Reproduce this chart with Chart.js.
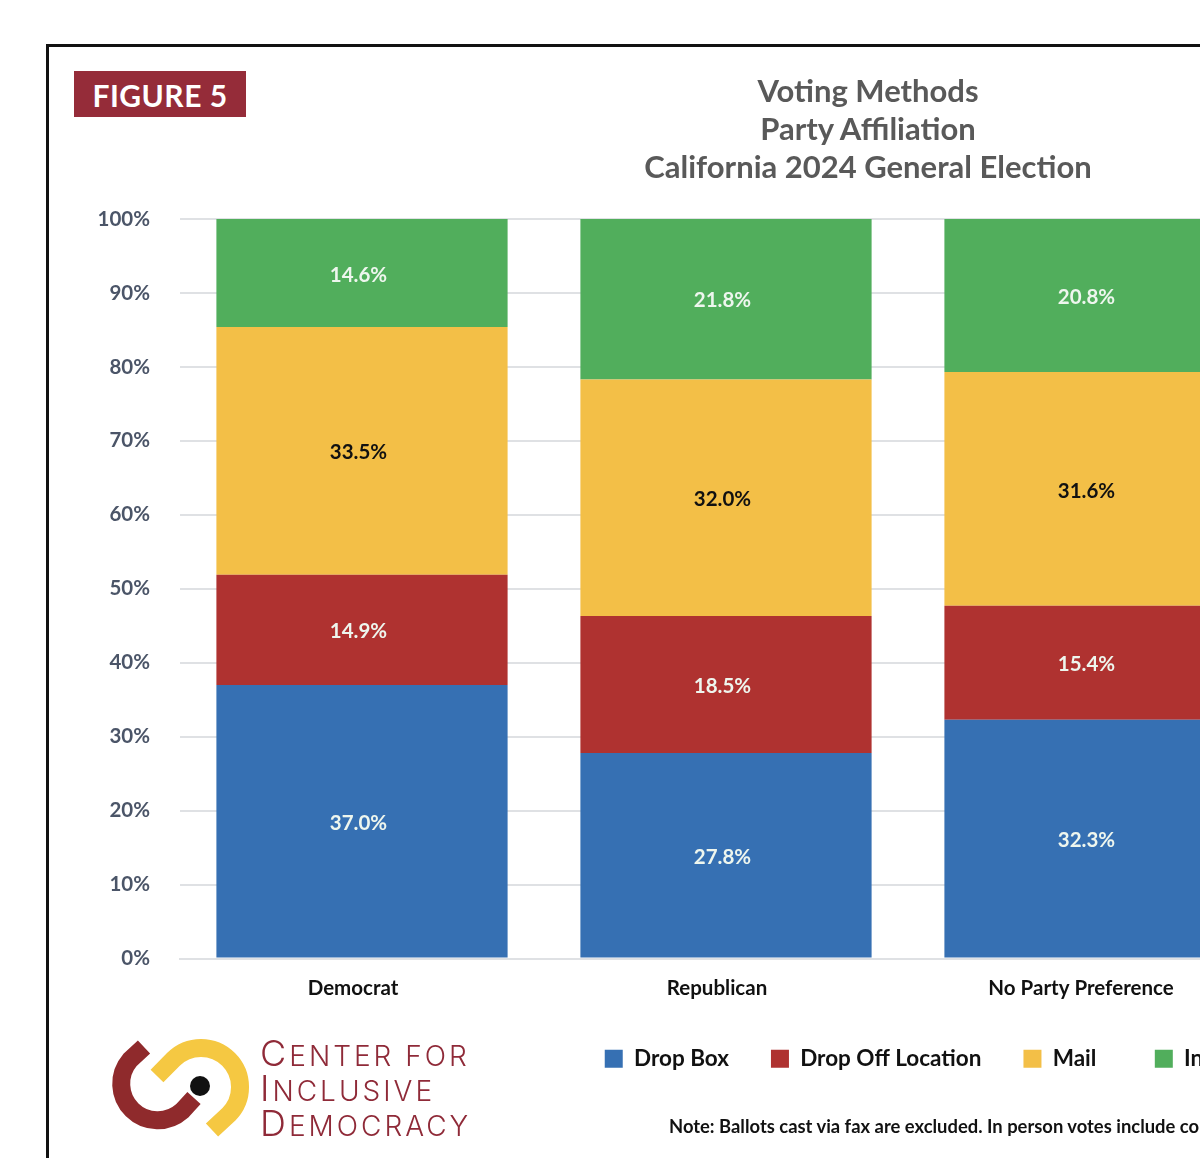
<!DOCTYPE html>
<html>
<head>
<meta charset="utf-8">
<title>Voting Methods by Party Affiliation</title>
<script src="https://cdn.jsdelivr.net/npm/chart.js@4/dist/chart.umd.min.js"></script>
<style>
  html, body { margin: 0; padding: 0; background: #fff; overflow: hidden; width: 1200px; height: 1158px; }
  body { position: relative; font-family: Lato, sans-serif; }
  #frame { position: absolute; left: 46px; top: 44px; width: 2000px; height: 2000px; border: 3px solid #111; box-sizing: border-box; }
  #chartBox { position: absolute; left: 48px; top: 48px; }
  #badge { position: absolute; left: 74px; top: 71px; width: 172px; height: 46px; background: #952c39; color: #fff; font: bold 30px Lato, sans-serif; line-height: 48px; text-align: center; letter-spacing: 0.5px; }
  #title { position: absolute; left: 468px; top: 71px; width: 800px; text-align: center; color: #595959; font: bold 31px/38px Lato, sans-serif; }
  #note { position: absolute; left: 669px; top: 1115px; white-space: nowrap; color: #111; font: bold 18.4px Lato, sans-serif; }
  #logo { position: absolute; left: 0; top: 0; }
</style>
</head>
<body>
<div id="frame"></div>
<div id="chartBox"><canvas id="votingChart"></canvas></div>
<div id="badge">FIGURE 5</div>
<div id="title">Voting Methods<br>Party Affiliation<br>California 2024 General Election</div>
<div id="note">Note: Ballots cast via fax are excluded. In person votes include co</div>
<svg id="logo" width="500" height="1158">
  <path d="M144 1047 L130 1060 A36.5 36.5 0 0 0 182 1111 L194 1098" fill="none" stroke="#8f2a2c" stroke-width="18"/>
  <path d="M157 1076 L173.4 1059.4 A39 39 0 0 1 228.6 1114.6 L212 1130" fill="none" stroke="#f5c842" stroke-width="18"/>
  <circle cx="200" cy="1086" r="10" fill="#111"/>
  <g fill="#8f2a38" font-family="Inter, sans-serif" font-weight="300" font-size="28" letter-spacing="3">
    <text x="260" y="1066"><tspan font-size="36">C</tspan>ENTER FOR</text>
    <text x="260" y="1101"><tspan font-size="36">I</tspan>NCLUSIVE</text>
    <text x="260" y="1136"><tspan font-size="36">D</tspan>EMOCRACY</text>
  </g>
</svg>
<script>
// Categories and tick labels
const parties = ['Democrat', 'Republican', 'No Party Preference'];
const percentTicks = [0, 10, 20, 30, 40, 50, 60, 70, 80, 90, 100];

// Share of ballots per method
const dropBox = [37.0, 27.8, 32.3];
const dropOff = [14.9, 18.5, 15.4];
const mail = [33.5, 32.0, 31.6];
const inPerson = [14.6, 21.8, 20.8];

const blue = '#3670b3';
const red = '#af3230';
const yellow = '#f3bf47';
const green = '#51ae5c';

// Draw the percentage in the middle of each bar segment
const segmentLabels = {
  id: 'segmentLabels',
  afterDatasetsDraw(chart) {
    const ctx = chart.ctx;
    ctx.save();
    ctx.font = 'bold 20.5px Lato, sans-serif';
    ctx.textAlign = 'center';
    ctx.textBaseline = 'middle';
    chart.data.datasets.forEach((ds, i) => {
      chart.getDatasetMeta(i).data.forEach((bar, j) => {
        ctx.fillStyle = ds.backgroundColor === yellow ? '#111' : '#eef6ee';
        ctx.fillText(ds.data[j].toFixed(1) + '%', bar.x - 3.5, (bar.y + bar.base) / 2 + 2);
      });
    });
    ctx.restore();
  }
};

// Legend sits under the right part of the plot, end-aligned past the trailing padding
const legendShift = {
  id: 'legendShift',
  afterLayout(chart) {
    chart.legend.right += 48;
  }
};

const canvas = document.getElementById('votingChart');
canvas.width = 1224;
canvas.height = 1110;

new Chart(canvas, {
  type: 'bar',
  data: {
    labels: parties,
    datasets: [
      { label: 'Drop Box', data: dropBox, backgroundColor: blue },
      { label: 'Drop Off Location', data: dropOff, backgroundColor: red },
      { label: 'Mail', data: mail, backgroundColor: yellow },
      { label: 'In Person', data: inPerson, backgroundColor: green }
    ]
  },
  plugins: [segmentLabels, legendShift],
  options: {
    responsive: false,
    devicePixelRatio: 1,
    animation: false,
    layout: { padding: { top: 171, right: 0, bottom: 78, left: 0 } },
    datasets: { bar: { categoryPercentage: 1, barPercentage: 0.8 } },
    scales: {
      x: {
        stacked: true,
        afterFit: (scale) => { scale.height = 47; },
        grid: { display: false },
        border: { color: '#dfe1e4', width: 2 },
        ticks: { color: '#111', padding: 10, labelOffset: -9, maxRotation: 0, font: { family: 'Lato', size: 20.5, weight: 'bold' } }
      },
      y: {
        stacked: true,
        min: 0,
        max: 100,
        afterFit: (scale) => { scale.width = 132; },
        afterBuildTicks: (scale) => { scale.ticks = percentTicks.map(v => ({ value: v })); },
        grid: { color: '#dfe1e4', lineWidth: 2, drawTicks: false },
        border: { display: false },
        ticks: { color: '#4b5568', padding: 30, callback: v => v + '%', font: { family: 'Lato', size: 20.5, weight: 'bold' } }
      }
    },
    plugins: {
      tooltip: { enabled: false },
      legend: {
        position: 'bottom',
        align: 'end',
        labels: {
          color: '#111',
          boxWidth: 18,
          boxHeight: 18,
          padding: 42,
          font: { family: 'Lato', size: 22.5, weight: 'bold' },
          // a little extra room after "Mail", as in the original legend
          generateLabels(chart) {
            const items = Chart.defaults.plugins.legend.labels.generateLabels(chart);
            items[2].text += '\u00a0\u00a0\u00a0';
            return items;
          }
        }
      }
    }
  }
});
</script>
</body>
</html>
